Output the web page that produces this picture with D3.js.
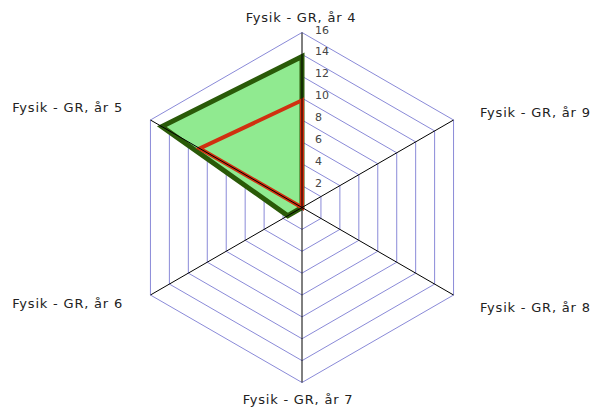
<!DOCTYPE html>
<html>
<head>
<meta charset="utf-8">
<script src="https://cdn.jsdelivr.net/npm/d3@7"></script>
<style>
  body { margin: 0; background: #fff; }
  text { font-family: "DejaVu Sans", Verdana, sans-serif; }
</style>
</head>
<body>
<script>
// axes, clockwise from the top
var axes = ["Fysik - GR, år 4", "Fysik - GR, år 9", "Fysik - GR, år 8",
            "Fysik - GR, år 7", "Fysik - GR, år 6", "Fysik - GR, år 5"];
var greenValues = [13.8, 0, 0, 0, 1.5, 14.8];
var redValues = [9.8, 0, 0, 0, 0, 10.8];
var ticks = [2, 4, 6, 8, 10, 12, 14, 16];

var width = 592, height = 411;
var cx = 302, cy = 207.5, radius = 175;

var svg = d3.select("body").append("svg")
    .attr("width", width).attr("height", height);

var r = d3.scaleLinear().domain([0, 16]).range([0, radius]);
var angle = d3.scalePoint().domain(d3.range(axes.length)).range([0, 2 * Math.PI * 5 / 6]);

function pt(i, v) {
    var a = angle(i) - Math.PI / 2;
    return [cx + r(v) * Math.cos(a), cy + r(v) * Math.sin(a)];
}

var line = d3.line();

// grid hexagons
svg.append("g").selectAll("path").data(ticks).enter().append("path")
    .attr("d", (t) => line(axes.map((a, i) => pt(i, t))) + "Z")
    .style("fill", "none")
    .style("stroke", "#8a8ad8")
    .style("stroke-width", 1);

// series
function series(vals, fill, stroke, sw) {
    svg.append("path")
        .attr("d", line(vals.map((v, i) => pt(i, v))) + "Z")
        .style("fill", fill)
        .style("stroke", stroke)
        .style("stroke-width", sw)
        .style("stroke-linejoin", "miter");
}
series(greenValues, "#90ea90", "#2a5a08", 5);
series(redValues, "none", "#d03010", 4);

// spokes
svg.append("g").selectAll("line").data(axes).enter().append("line")
    .attr("x1", cx).attr("y1", cy)
    .attr("x2", (d, i) => pt(i, 16)[0])
    .attr("y2", (d, i) => pt(i, 16)[1])
    .style("stroke", "#000")
    .style("stroke-width", 1);

// tick labels on the top axis
svg.append("g").selectAll("text").data(ticks).enter().append("text")
    .attr("x", cx + 13)
    .attr("y", (t) => pt(0, t)[1] + 1)
    .text((t) => t)
    .style("font-size", "11px")
    .style("fill", "#444");

// axis labels
var labelPos = [
    { x: 301, y: 22, anchor: "middle" },
    { x: 480, y: 117, anchor: "start" },
    { x: 480, y: 312, anchor: "start" },
    { x: 298, y: 404, anchor: "middle" },
    { x: 123, y: 308, anchor: "end" },
    { x: 123, y: 112, anchor: "end" }
];
svg.append("g").selectAll("text").data(axes).enter().append("text")
    .attr("x", (d, i) => labelPos[i].x)
    .attr("y", (d, i) => labelPos[i].y)
    .attr("text-anchor", (d, i) => labelPos[i].anchor)
    .text((d) => d)
    .style("font-size", "13px")
    .style("letter-spacing", "0.8px")
    .style("fill", "#222");
</script>
</body>
</html>
